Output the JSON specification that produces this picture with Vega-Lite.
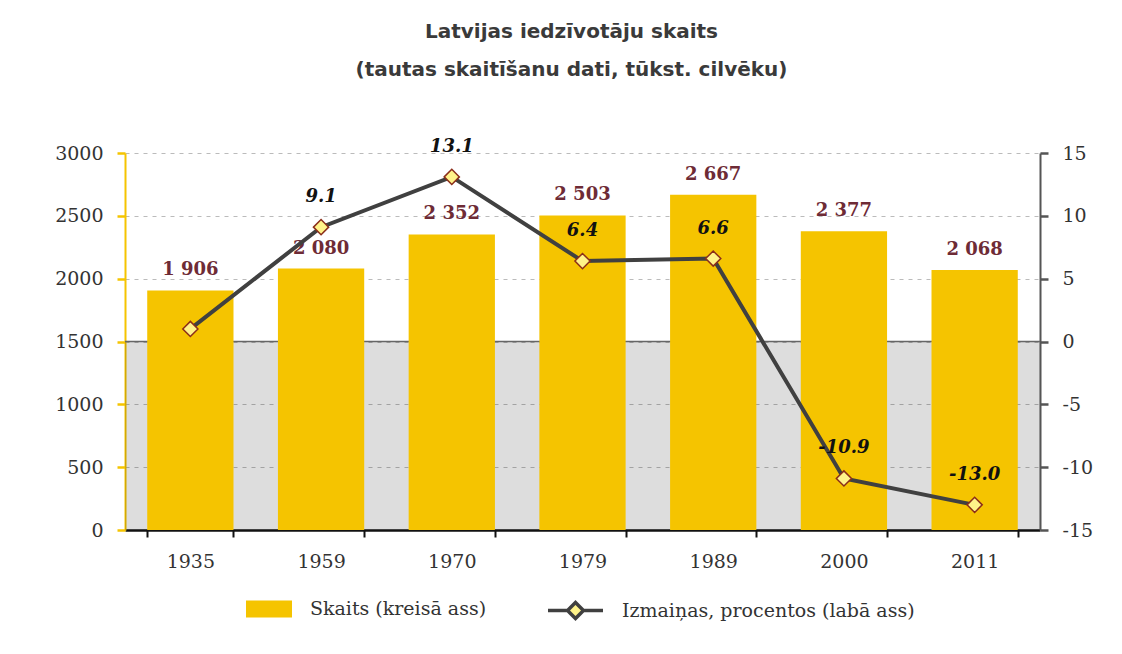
{
  "$schema": "https://vega.github.io/schema/vega-lite/v6.json",
  "width": 915,
  "height": 377,
  "autosize": {"type": "none"},
  "padding": {"left": 125, "top": 153, "right": 82, "bottom": 124},
  "background": "white",
  "title": {
    "text": ["Latvijas iedzīvotāju skaits", "(tautas skaitīšanu dati, tūkst. cilvēku)"],
    "font": "DejaVu Sans",
    "fontSize": 20,
    "fontWeight": "bold",
    "color": "#3A3A3A",
    "lineHeight": 38,
    "anchor": "middle",
    "frame": "group",
    "dx": -11,
    "offset": 58
  },
  "data": {
    "values": [
      {"year": 1935, "pop": 1906, "pct": 1.0},
      {"year": 1959, "pop": 2080, "pct": 9.1},
      {"year": 1970, "pop": 2352, "pct": 13.1},
      {"year": 1979, "pop": 2503, "pct": 6.4},
      {"year": 1989, "pop": 2667, "pct": 6.6},
      {"year": 2000, "pop": 2377, "pct": -10.9},
      {"year": 2011, "pop": 2068, "pct": -13.0}
    ]
  },
  "layer": [
    {
      "layer": [
        {
          "data": {"values": [{"lo": 0, "hi": 1500}]},
          "mark": {"type": "rect", "fill": "#000000", "fillOpacity": 0.135},
          "encoding": {
            "y": {
              "field": "lo",
              "type": "quantitative",
              "scale": {"domain": [0, 3000], "nice": false},
              "axis": {
                "orient": "left",
                "title": null,
                "values": [0, 500, 1000, 1500, 2000, 2500, 3000],
                "format": "d",
                "labelFont": "DejaVu Serif",
                "labelFontSize": 19,
                "labelColor": "#333333",
                "labelPadding": 14,
                "domainColor": "#F5C400",
                "domainWidth": 2,
                "tickColor": "#F5C400",
                "tickWidth": 2.5,
                "tickSize": 8,
                "grid": true,
                "gridColor": "#BBBBBB",
                "gridDash": [4, 5],
                "gridWidth": 1
              }
            },
            "y2": {"field": "hi"}
          }
        },
        {
          "data": {"values": [{"lo": 0, "hi": 1500}]},
          "mark": {"type": "rule", "color": "#666666", "strokeWidth": 1.5},
          "encoding": {"y": {"field": "hi", "type": "quantitative"}}
        },
        {
          "mark": {"type": "bar", "color": "#F5C400"},
          "encoding": {
            "x": {
              "field": "year",
              "type": "ordinal",
              "scale": {"paddingInner": 0.34, "paddingOuter": 0.17},
              "axis": {
                "title": null,
                "labelAngle": 0,
                "labelFont": "DejaVu Serif",
                "labelFontSize": 19,
                "labelColor": "#333333",
                "labelPadding": 15,
                "domainColor": "#111111",
                "domainWidth": 2.5,
                "tickColor": "#111111",
                "tickWidth": 2,
                "tickSize": 7,
                "tickBand": "extent",
                "grid": false
              }
            },
            "y": {"field": "pop", "type": "quantitative"},
            "fill": {
              "datum": "Skaits (kreisā ass)",
              "scale": {"range": ["#F5C400"]},
              "legend": {
                "orient": "none",
                "legendX": 121,
                "legendY": 433,
                "title": null,
                "symbolType": "M-1,-0.37H1V0.37H-1Z",
                "symbolSize": 2116,
                "symbolStrokeWidth": 0,
                "labelFont": "DejaVu Serif",
                "labelFontSize": 19,
                "labelColor": "#333333",
                "labelOffset": 18,
                "labelLimit": 0
              }
            }
          }
        },
        {
          "mark": {
            "type": "text",
            "font": "DejaVu Serif",
            "fontSize": 18,
            "fontWeight": "bold",
            "color": "#6E2B36",
            "baseline": "alphabetic",
            "dy": -15
          },
          "encoding": {
            "x": {"field": "year", "type": "ordinal"},
            "y": {"field": "pop", "type": "quantitative"},
            "text": {"field": "pop", "type": "quantitative", "format": ",d"}
          }
        }
      ]
    },
    {
      "encoding": {
        "x": {"field": "year", "type": "ordinal"},
        "y": {
          "field": "pct",
          "type": "quantitative",
          "scale": {"domain": [-15, 15], "nice": false, "zero": false},
          "axis": {
            "orient": "right",
            "title": null,
            "values": [-15, -10, -5, 0, 5, 10, 15],
            "format": "d",
            "grid": false,
            "labelFont": "DejaVu Serif",
            "labelFontSize": 19,
            "labelColor": "#333333",
            "labelPadding": 14,
            "domainColor": "#555555",
            "domainWidth": 2,
            "tickColor": "#555555",
            "tickWidth": 2.5,
            "tickSize": 8
          }
        }
      },
      "layer": [
        {
          "mark": {"type": "line", "color": "#404040", "strokeWidth": 4},
          "encoding": {
            "stroke": {
              "datum": "Izmaiņas, procentos (labā ass)",
              "scale": {"range": ["#404040"]},
              "legend": {
                "orient": "none",
                "legendX": 421,
                "legendY": 428,
                "title": null,
                "symbolType": "M-1,0H-0.29M0.29,0H1M0,-0.29L0.29,0L0,0.29L-0.29,0Z",
                "symbolSize": 3025,
                "symbolStrokeWidth": 3.5,
                "symbolFillColor": "#FFF38A",
                "labelFont": "DejaVu Serif",
                "labelFontSize": 19,
                "labelColor": "#333333",
                "labelOffset": 17,
                "labelLimit": 0
              }
            }
          }
        },
        {
          "mark": {
            "type": "point",
            "shape": "diamond",
            "filled": true,
            "fill": "#FFF38A",
            "stroke": "#8B2E1A",
            "strokeWidth": 1.5,
            "size": 230,
            "opacity": 1
          }
        },
        {
          "transform": [{"filter": "datum.year != 1935"}],
          "mark": {
            "type": "text",
            "font": "DejaVu Serif",
            "fontSize": 18,
            "fontWeight": "bold",
            "fontStyle": "italic",
            "color": "#111111",
            "baseline": "alphabetic",
            "dy": -25
          },
          "encoding": {
            "text": {"field": "pct", "type": "quantitative", "format": ".1f"}
          }
        }
      ]
    }
  ],
  "resolve": {"scale": {"y": "independent", "fill": "independent", "stroke": "independent"}},
  "config": {
    "view": {"stroke": null},
    "locale": {
      "number": {"decimal": ".", "thousands": " ", "grouping": [3], "currency": ["", ""], "minus": "-"}
    }
  }
}
